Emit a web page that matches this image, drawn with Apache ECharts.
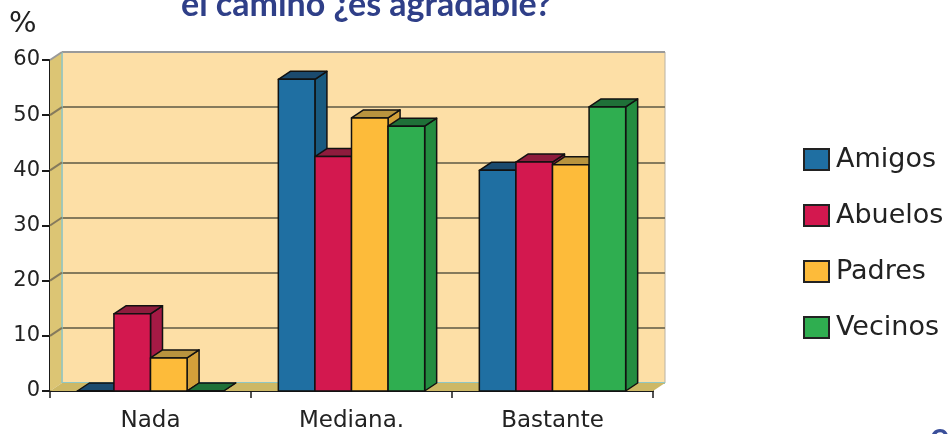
<!DOCTYPE html>
<html><head><meta charset="utf-8">
<script src="https://cdn.jsdelivr.net/npm/echarts@6/dist/echarts.min.js"></script>
<style>html,body{margin:0;padding:0;background:#fff}#c{width:951px;height:434px}</style>
</head><body><div id="c"></div>
<script>
const categories = ['Nada', 'Mediana.', 'Bastante'];
const seriesNames = ['Amigos', 'Abuelos', 'Padres', 'Vecinos'];
const amigos  = [0, 56.5, 40];
const abuelos = [14, 42.5, 41.5];
const padres  = [6, 49.5, 41];
const vecinos = [0, 48, 51.5];
const yTicks = [0, 10, 20, 30, 40, 50, 60];
const titleText = 'el camino ¿es agradable?';
const unitLabel = '%';

const values = [amigos, abuelos, padres, vecinos];
const fronts = ['#1f6fa2', '#d3184f', '#fdbb3a', '#2fae50'];
const tops   = ['#1b4a6e', '#8e1c3d', '#b8933e', '#1f7038'];
const sides  = ['#195a80', '#a51a45', '#d3a03a', '#238c40'];
const DX = 12, DY = 8;
const FONT = '"DejaVu Sans", sans-serif';

function barRenderer(i) {
  return function (params, api) {
    const c = api.coord([api.value(0), api.value(1)]);
    const b = api.coord([api.value(0), 0]);
    const band = api.size([1, 0])[0];
    const bw = band * 0.182;
    const x = c[0] + (i - 1.5) * bw - bw / 2;
    const t = c[1], bot = b[1];
    const stroke = {stroke: '#111', lineWidth: 1.5, lineJoin: 'round'};
    return {type: 'group', children: [
      {type: 'polygon', shape: {points: [[x + bw, t], [x + bw + DX, t - DY], [x + bw + DX, bot - DY], [x + bw, bot]]},
       style: Object.assign({fill: sides[i]}, stroke)},
      {type: 'polygon', shape: {points: [[x, t], [x + DX, t - DY], [x + bw + DX, t - DY], [x + bw, t]]},
       style: Object.assign({fill: tops[i]}, stroke)},
      {type: 'rect', shape: {x: x, y: t, width: bw, height: Math.max(bot - t, 0)},
       style: Object.assign({fill: fronts[i]}, stroke)}
    ]};
  };
}

function wallRenderer(params, api) {
  const cs = params.coordSys;
  const x0 = cs.x, x1 = cs.x + cs.width, yT = cs.y, yB = cs.y + cs.height;
  const ch = [
    {type: 'polygon', shape: {points: [[x0, yT], [x0 + DX, yT - DY], [x0 + DX, yB - DY], [x0, yB]]},
     style: {fill: '#dcc574'}},
    {type: 'polygon', shape: {points: [[x0, yB], [x0 + DX, yB - DY], [x1 + DX, yB - DY], [x1, yB]]},
     style: {fill: '#cdb865'}},
    {type: 'line', shape: {x1: x0 + DX, y1: yT - DY, x2: x0 + DX, y2: yB - DY}, style: {stroke: '#8fc7c4', lineWidth: 1.5}}
  ];
  yTicks.forEach(function (v) {
    if (v === 0) return;
    const y = api.coord([0, v])[1];
    ch.push({type: 'line', shape: {x1: x0, y1: y, x2: x0 + DX, y2: y - DY},
             style: {stroke: v === 60 ? '#9a9a9a' : '#857a5c', lineWidth: 2}});
  });
  return {type: 'group', children: ch};
}

const series = [{
  type: 'custom', name: '_walls', xAxisIndex: 0, yAxisIndex: 0, silent: true, z: 1,
  data: [[0, 0]], renderItem: wallRenderer
}];
seriesNames.forEach(function (n, i) {
  series.push({
    type: 'custom', name: n, xAxisIndex: 0, yAxisIndex: 0, z: 3,
    itemStyle: {color: fronts[i], borderColor: '#222', borderWidth: 1.5},
    data: categories.map(function (c, k) { return [k, values[i][k]]; }),
    renderItem: barRenderer(i)
  });
});

const chart = echarts.init(document.getElementById('c'), null, {renderer: 'canvas'});
chart.setOption({
  animation: false,
  backgroundColor: '#fff',
  title: {
    text: titleText, left: 176, top: -17,
    textStyle: {fontFamily: 'Lato, sans-serif', fontWeight: 'bold', fontSize: 34, color: '#2f3f88'}
  },
  graphic: [
    {type: 'text', left: 9, top: 10, style: {text: unitLabel, font: '29px ' + FONT, fill: '#222'}},
    {type: 'text', left: 930, top: 418, style: {text: 'e', font: 'bold 36px Lato, sans-serif', fill: '#3a4f9a'}}
  ],
  legend: {
    data: seriesNames, orient: 'vertical', left: 798, top: 141,
    itemWidth: 25, itemHeight: 21, itemGap: 29, icon: 'rect',
    textStyle: {fontFamily: FONT, fontSize: 27, color: '#222', padding: [0, 0, 0, 2]}
  },
  grid: [
    {left: 50, top: 60, width: 603, height: 331, show: false},
    {left: 62, top: 52, width: 603, height: 331, show: true, backgroundColor: '#fddfa6', borderColor: '#b9b2a4', borderWidth: 1}
  ],
  xAxis: [
    {type: 'category', gridIndex: 0, data: categories,
     axisLine: {show: true, lineStyle: {color: '#1a1a1a', width: 2}},
     axisTick: {show: true, length: 7, lineStyle: {color: '#1a1a1a', width: 1.5}},
     axisLabel: {fontFamily: FONT, fontSize: 23, color: '#222', margin: 19},
     splitLine: {show: false}},
    {type: 'category', gridIndex: 1, data: categories, show: false}
  ],
  yAxis: [
    {type: 'value', gridIndex: 0, min: 0, max: 60, interval: 10,
     axisLine: {show: true, lineStyle: {color: '#1a1a1a', width: 2}},
     axisTick: {show: true, length: 8, lineStyle: {color: '#1a1a1a', width: 2}},
     axisLabel: {fontFamily: FONT, fontSize: 21, color: '#222', margin: 10},
     splitLine: {show: false}},
    {type: 'value', gridIndex: 1, min: 0, max: 60, interval: 10,
     axisLine: {show: false}, axisTick: {show: false}, axisLabel: {show: false},
     splitLine: {show: true, lineStyle: {color: ['#8fc7c4', '#857a5c', '#857a5c', '#857a5c', '#857a5c', '#857a5c', '#9a9a9a'], width: 2}}}
  ],
  series: series
});
</script></body></html>
